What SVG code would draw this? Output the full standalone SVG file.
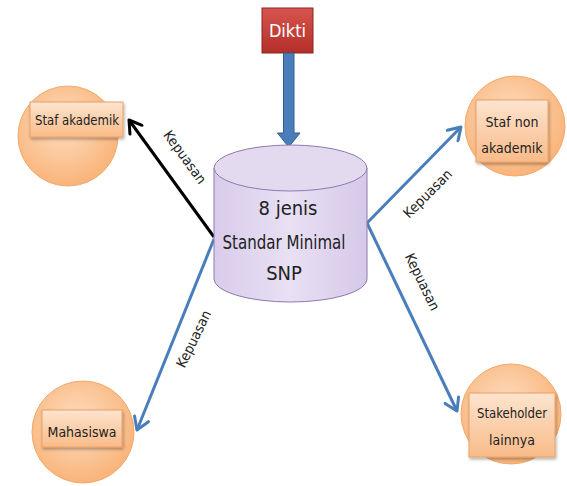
<svg xmlns="http://www.w3.org/2000/svg" width="567" height="486" viewBox="0 0 567 486">
<defs>
<radialGradient id="circ" cx="0.45" cy="0.4" r="0.6">
<stop offset="0" stop-color="#FDDDC0"/>
<stop offset="1" stop-color="#F9B47A"/>
</radialGradient>
<linearGradient id="box" x1="0" y1="0" x2="0" y2="1">
<stop offset="0" stop-color="#FDE4CF"/>
<stop offset="1" stop-color="#F9BB88"/>
</linearGradient>
<linearGradient id="cyl" x1="0" y1="0" x2="1" y2="0">
<stop offset="0" stop-color="#D9CCEB"/>
<stop offset="0.5" stop-color="#E8E0F3"/>
<stop offset="1" stop-color="#D6C8E9"/>
</linearGradient>
<linearGradient id="red" x1="0" y1="0" x2="0" y2="1">
<stop offset="0" stop-color="#D8554F"/>
<stop offset="1" stop-color="#B32E28"/>
</linearGradient>
<marker id="ab" viewBox="0 0 12 12" refX="10" refY="6" markerWidth="6" markerHeight="6" orient="auto" markerUnits="strokeWidth">
<path d="M2,1 L10,6 L2,11" fill="none" stroke="#4A7EBB" stroke-width="2" stroke-linecap="round" stroke-linejoin="round"/>
</marker>
<marker id="ak" viewBox="0 0 12 12" refX="10" refY="6" markerWidth="6" markerHeight="6" orient="auto" markerUnits="strokeWidth">
<path d="M2,1 L10,6 L2,11" fill="none" stroke="#000" stroke-width="2" stroke-linecap="round" stroke-linejoin="round"/>
</marker>
<filter id="sh" x="-20%" y="-20%" width="140%" height="150%">
<feDropShadow dx="1" dy="2" stdDeviation="1.5" flood-color="#000" flood-opacity="0.3"/>
</filter>
</defs>
<style>
.c{fill:url(#circ);stroke:#F4A86A;stroke-width:1}
.b{fill:url(#box);stroke:#E9A066;stroke-width:1;filter:url(#sh)}
.t{font-family:"Liberation Sans Narrow","DejaVu Sans Condensed","Liberation Sans",sans-serif;font-size:14px;fill:#222;text-anchor:middle}
.k{font-family:"Liberation Sans Narrow","DejaVu Sans Condensed","Liberation Sans",sans-serif;font-size:14px;fill:#222;text-anchor:middle}
.bl{fill:none;stroke:#4A7EBB;stroke-width:3;marker-end:url(#ab)}
</style>
<g id="connectors">
<line x1="214" y1="237" x2="129" y2="120" fill="none" stroke="#000" stroke-width="3" marker-end="url(#ak)"/>
<line class="bl" x1="367" y1="223" x2="461" y2="127"/>
<line class="bl" x1="367" y1="223" x2="457" y2="411"/>
<line class="bl" x1="214" y1="239" x2="137" y2="430"/>
<text class="k" transform="translate(181,160) rotate(54)" textLength="62" lengthAdjust="spacingAndGlyphs">Kepuasan</text>
<text class="k" transform="translate(431,197) rotate(-45)" textLength="62" lengthAdjust="spacingAndGlyphs">Kepuasan</text>
<text class="k" transform="translate(418,284) rotate(64)" textLength="62" lengthAdjust="spacingAndGlyphs">Kepuasan</text>
<text class="k" transform="translate(198,341) rotate(-64)" textLength="62" lengthAdjust="spacingAndGlyphs">Kepuasan</text>
</g>
<g id="dikti">
<rect x="262" y="8" width="51" height="45" fill="url(#red)" stroke="#8C2420" stroke-width="1"/>
<text x="287.5" y="37" font-family="'Liberation Sans Narrow','DejaVu Sans Condensed','Liberation Sans',sans-serif" font-size="18" fill="#fff" text-anchor="middle">Dikti</text>
<path d="M283.5,53 L294,53 L294,133 L300,133 L288.7,147 L277.5,133 L283.5,133 Z" fill="#4A7EBB" stroke="#345C8C" stroke-width="1"/>
</g>
<g id="snp">
<path d="M214,168 L214,279 A76.5,23 0 0 0 367,279 L367,168" fill="url(#cyl)" stroke="#8E7AAE" stroke-width="1"/>
<ellipse cx="290.5" cy="168" rx="76.5" ry="23" fill="#E3DAF0" stroke="#8E7AAE" stroke-width="1"/>
<g font-family="'Liberation Sans Narrow','DejaVu Sans Condensed','Liberation Sans',sans-serif" font-size="20" fill="#222" text-anchor="middle">
<text x="288" y="215">8 jenis</text>
<text x="284" y="249" textLength="123" lengthAdjust="spacingAndGlyphs">Standar Minimal</text>
<text x="284" y="280">SNP</text>
</g>
</g>
<g id="staf-akademik">
<circle class="c" cx="68" cy="136" r="50"/>
<rect class="b" x="30" y="102" width="93" height="35"/>
<text class="t" x="77" y="125" textLength="84" lengthAdjust="spacingAndGlyphs">Staf akademik</text>
</g>
<g id="staf-non-akademik">
<circle class="c" cx="515" cy="126" r="50"/>
<rect class="b" x="476" y="100" width="72" height="62"/>
<text class="t" x="512" y="127">Staf non</text>
<text class="t" x="512" y="153">akademik</text>
</g>
<g id="stakeholder">
<circle class="c" cx="511" cy="414" r="50"/>
<rect class="b" x="469" y="393" width="86" height="64"/>
<text class="t" x="512" y="418" textLength="70" lengthAdjust="spacingAndGlyphs">Stakeholder</text>
<text class="t" x="512" y="445">lainnya</text>
</g>
<g id="mahasiswa">
<circle class="c" cx="83" cy="432" r="51"/>
<rect class="b" x="42" y="410" width="80" height="37"/>
<text class="t" x="82" y="437">Mahasiswa</text>
</g>
</svg>
